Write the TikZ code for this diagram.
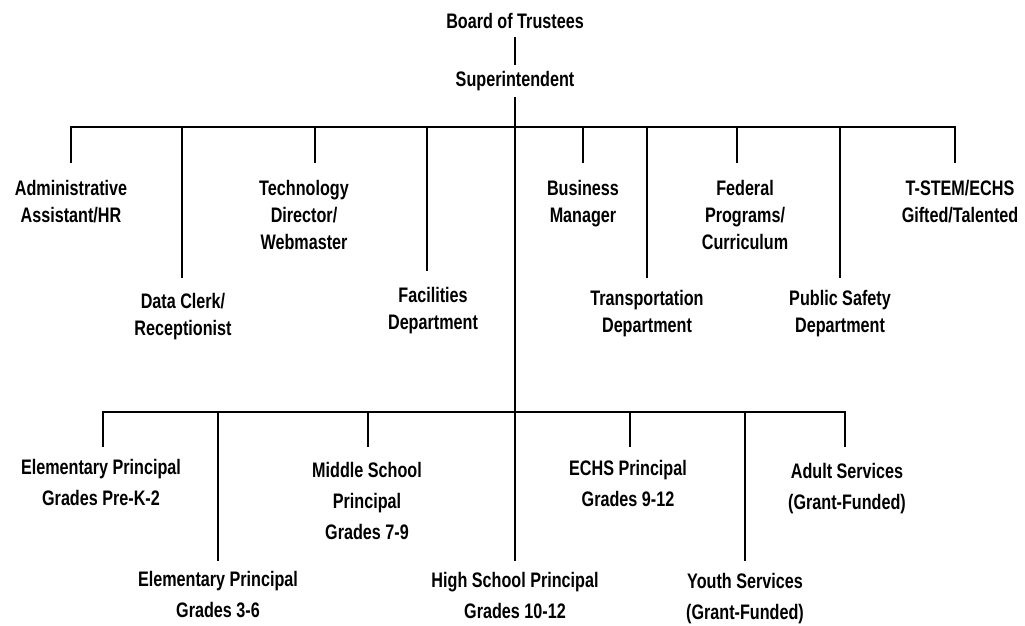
\documentclass[tikz,border=0pt]{standalone}
\usepackage{fontspec}
\setmainfont{Liberation Sans}[FakeStretch=0.77]
\begin{document}
\begin{tikzpicture}[x=1pt,y=-1pt,line cap=butt]
\useasboundingbox (0,0) rectangle (1025,625);
\tikzset{
  conn/.style={line width=1.7pt, black},
  lbl/.style={align=center, anchor=base, inner sep=0pt, text=black,
    font=\fontsize{21}{27}\selectfont\bfseries},
  lblb/.style={lbl, font=\fontsize{21}{31}\selectfont\bfseries}
}
% top
\node[lbl] (board) at (515,28) {Board of Trustees};
\node[lbl] (sup) at (515,86) {Superintendent};
\coordinate (board-s) at (515,37);
\coordinate (sup-n) at (515,65);
\coordinate (sup-s) at (515,97);
\draw[conn] (board-s) -- (sup-n);

% first level labels (anchor = baseline of last line)
\node[lbl] (admin) at (71,222) {Administrative\\Assistant/HR};
\node[lbl] (clerk) at (183,335) {Data Clerk/\\Receptionist};
\node[lbl] (tech) at (304,249) {Technology\\Director/\\Webmaster};
\node[lbl] (fac) at (433,329) {Facilities\\Department};
\node[lbl] (bus) at (583,222) {Business\\Manager};
\node[lbl] (trans) at (647,332) {Transportation\\Department};
\node[lbl] (fed) at (745,249) {Federal\\Programs/\\Curriculum};
\node[lbl] (pub) at (840,332) {Public Safety\\Department};
\node[lbl] (tstem) at (960,222) {T-STEM/ECHS\\Gifted/Talented};

\coordinate (busL) at (70,127);
\coordinate (busR) at (956,127);
\draw[conn] (busL) -- (busR);
\foreach \x/\y/\n in {71/163/admin, 182/278/clerk, 315/163/tech, 427/271/fac,
   583/163/bus, 647/278/trans, 737/163/fed, 840/278/pub, 955/163/tstem}{
  \coordinate (\n-n) at (\x,\y);
  \draw[conn] (\x,127) -- (\n-n);
}

% second level labels
\node[lblb] (el1) at (101,505) {Elementary Principal\\Grades Pre-K-2};
\node[lblb] (el2) at (218,617) {Elementary Principal\\Grades 3-6};
\node[lblb] (ms) at (367,539) {Middle School\\Principal\\Grades 7-9};
\node[lblb] (hs) at (515,618) {High School Principal\\Grades 10-12};
\node[lblb] (echs) at (628,506) {ECHS Principal\\Grades 9-12};
\node[lblb] (youth) at (745,619) {Youth Services\\(Grant-Funded)};
\node[lblb] (adult) at (847,509) {Adult Services\\(Grant-Funded)};

\coordinate (hs-n) at (515,561);
\draw[conn] (sup-s) -- (hs-n);

\coordinate (bbL) at (102,412);
\coordinate (bbR) at (846,412);
\draw[conn] (bbL) -- (bbR);
\foreach \x/\y/\n in {103/447/el1, 218/561/el2, 368/447/ms, 630/447/echs,
   745/561/youth, 845/447/adult}{
  \coordinate (\n-n) at (\x,\y);
  \draw[conn] (\x,412) -- (\n-n);
}
\end{tikzpicture}
\end{document}
